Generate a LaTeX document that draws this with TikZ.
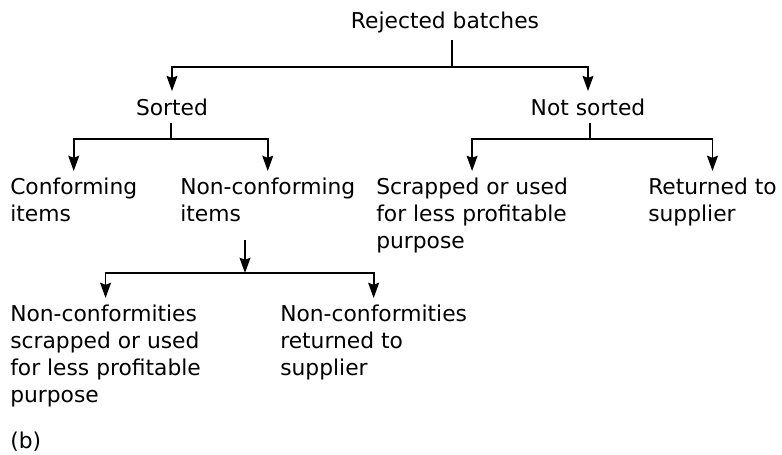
\documentclass[tikz,border=0pt]{standalone}
\usepackage{fontspec}
\setmainfont{DejaVu Sans}
\usetikzlibrary{arrows.meta,positioning}
\tikzset{%
  label/.style={inner xsep=0pt, inner ysep=5pt, font=\fontsize{15.5}{19.2}\selectfont},
  head/.style={label, anchor=base},% centred heading over a split
  outcome/.style={label, anchor=north west, align=left},% left-aligned result text
  stem/.style={line width=1.3pt},% plain line into a junction
  branch/.style={stem, -{Stealth[length=3.8mm,width=2.7mm,inset=0.5mm]}}% arrow down to a result
}

\begin{document}
\begin{tikzpicture}[x=0.025cm, y=-0.025cm]
\useasboundingbox (0,0) rectangle (782,454);

\node[head] (rej) at (445, 28) {Rejected batches};
\node[head] (sorted) at (172,115) {Sorted};
\node[head] (notsorted) at (588,115) {Not sorted};

\node[outcome] (conf) at (10,171) {Conforming\\items};
\node[outcome] (nonconf) at (180,171) {Non-conforming\\items};
\node[outcome] (scrap) at (376,171) {Scrapped or used\\for less profitable\\purpose};
\node[outcome] (ret) at (648,171) {Returned to\\supplier};

\node[outcome] (ncscrap) at (10,298) {Non-conformities\\scrapped or used\\for less profitable\\purpose};
\node[outcome] (ncret) at (280,298) {Non-conformities\\returned to\\supplier};

\node[label, anchor=base west] (figb) at (10,448) {(b)};

% junctions of the splits
\coordinate (j0) at (452, 67);
\coordinate (j1) at (171,139);
\coordinate (j2) at (590,139);
\coordinate (nc) at (245,240);
\coordinate (j3) at (245,273);

\draw[stem] (rej.south -| j0) -- (j0);
\draw[branch] (j0) -| (sorted);
\draw[branch] (j0) -| (notsorted);

\draw[stem] (sorted.south -| j1) -- (j1);
\draw[branch] (j1) -| (conf);
\draw[branch] (j1) -| (nonconf);

\draw[stem] (notsorted.south -| j2) -- (j2);
\draw[branch] (j2) -| (scrap);
\draw[branch] (j2) -| (ret);

\draw[branch] (nc) -- (j3);
\draw[branch] (j3) -| (ncscrap);
\draw[branch] (j3) -| (ncret);

\end{tikzpicture}
\end{document}
